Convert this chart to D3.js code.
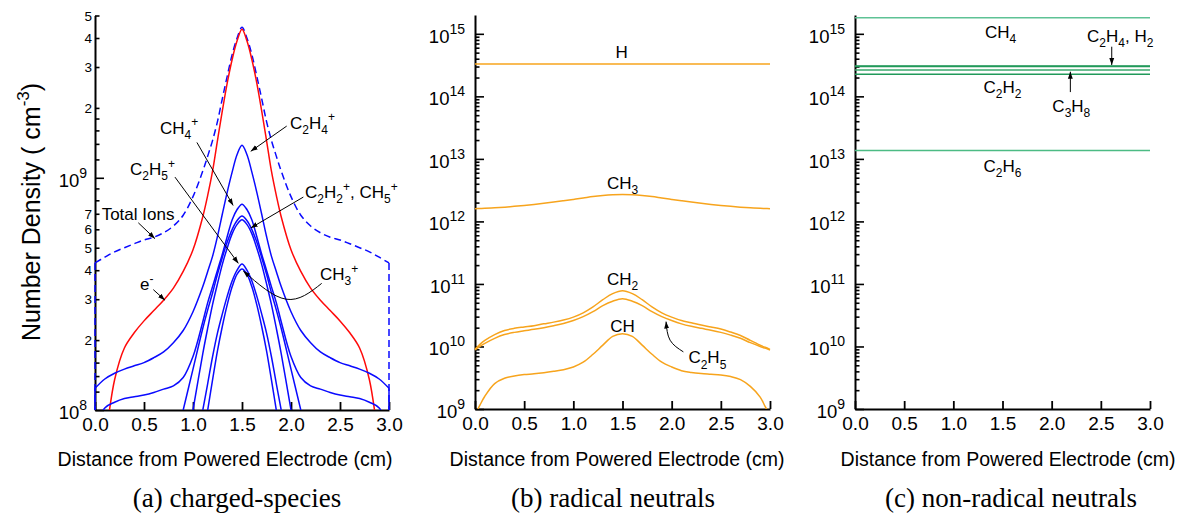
<!DOCTYPE html>
<html lang="en">
<head>
<meta charset="UTF-8">
<title>Number density profiles</title>
<script src="https://d3js.org/d3.v7.min.js"></script>
<style>
  body, html { margin: 0; padding: 0; background: #fff; overflow: hidden; }
  svg { display: block; font-family: "Liberation Sans", Arial, sans-serif; }
  .caption { font-family: "Liberation Serif", "Times New Roman", serif; }
</style>
</head>
<body>
<svg width="1193" height="514"></svg>
<script>
const _ = null;

// ---- (a) charged species, values in 1e8 cm^-3 ----
const xA = [0,0.1,0.2,0.3,0.4,0.5,0.6,0.7,0.8,0.9,1.0,1.1,1.15,1.2,1.25,1.3,1.35,1.4,1.45,1.5,
            1.55,1.6,1.65,1.7,1.75,1.8,1.85,1.9,2.0,2.1,2.2,2.3,2.4,2.5,2.6,2.7,2.8,2.9,3.0];
const totalIons = [4.3,4.55,4.8,5.0,5.2,5.4,5.55,5.8,6.2,6.9,8.3,10.7,12.4,14.5,17.5,22,27.5,34,40,44.5,
                   40,34,27.5,22,17.5,14.5,12.4,10.7,8.3,6.9,6.2,5.8,5.55,5.4,5.2,5.0,4.8,4.55,4.3];
const electrons = [0.4,0.72,1.35,1.85,2.15,2.42,2.68,2.97,3.35,3.95,4.9,6.8,8.4,10.7,14.5,19.5,25.7,32.4,38.9,43.6,
                   38.9,32.4,25.7,19.5,14.5,10.7,8.4,6.8,4.9,3.95,3.35,2.97,2.68,2.42,2.15,1.85,1.35,0.72,0.4];
const c2h4Ion = [1.24,1.36,1.44,1.5,1.55,1.6,1.68,1.78,1.95,2.2,2.65,3.4,3.95,4.6,5.6,7.0,8.7,10.6,12.6,13.8,
                 12.6,10.6,8.7,7.0,5.6,4.6,3.95,3.4,2.65,2.2,1.95,1.78,1.68,1.6,1.55,1.5,1.44,1.36,1.24];
const ch4Ion = [0.8,1.02,1.08,1.12,1.14,1.16,1.19,1.23,1.27,1.38,1.7,2.4,2.9,3.4,4.0,4.7,5.6,6.6,7.3,7.7,
                7.3,6.6,5.6,4.7,4.0,3.4,2.9,2.4,1.7,1.38,1.27,1.23,1.19,1.16,1.14,1.12,1.08,1.02,0.8];
const c2h2Ion = [_,_,_,_,_,_,_,_,_,1.0,1.5,2.25,2.7,3.2,3.85,4.55,5.3,6.0,6.55,6.85,
                 6.55,6.0,5.3,4.55,3.85,3.2,2.7,2.25,1.5,1.0,_,_,_,_,_,_,_,_,_];
const ch5Ion = [_,_,_,_,_,_,_,_,_,_,1.0,1.75,2.25,2.85,3.5,4.25,5.0,5.75,6.3,6.6,
                6.3,5.75,5.0,4.25,3.5,2.85,2.25,1.75,1.0,_,_,_,_,_,_,_,_,_,_];
const c2h5Ion = [_,_,_,_,_,_,_,_,_,_,_,1.0,1.3,1.7,2.15,2.6,3.1,3.6,4.0,4.25,
                 4.0,3.6,3.1,2.6,2.15,1.7,1.3,1.0,_,_,_,_,_,_,_,_,_,_,_];
const ch3Ion = [_,_,_,_,_,_,_,_,_,_,_,_,1.0,1.35,1.8,2.3,2.85,3.4,3.85,4.05,
                3.85,3.4,2.85,2.3,1.8,1.35,1.0,_,_,_,_,_,_,_,_,_,_,_,_];

// ---- (b) radical neutrals ----
const xB = [0,0.05,0.1,0.2,0.3,0.4,0.5,0.6,0.7,0.8,0.9,1.0,1.1,1.2,1.3,1.4,1.5,
            1.6,1.7,1.8,1.9,2.0,2.1,2.2,2.3,2.4,2.5,2.6,2.7,2.8,2.9,2.95,3.0];
const ch3Rad = [1.6,1.61,1.62,1.65,1.69,1.74,1.8,1.87,1.95,2.04,2.14,2.25,2.37,2.5,2.6,2.67,2.7,
                2.67,2.6,2.5,2.37,2.25,2.14,2.04,1.95,1.87,1.8,1.74,1.69,1.65,1.62,1.61,1.6];   // 1e12
const ch2Rad = [0.9,1.08,1.25,1.55,1.8,1.95,2.05,2.15,2.3,2.45,2.65,2.95,3.45,4.3,5.6,7.0,7.8,
                7.0,5.6,4.3,3.45,2.95,2.6,2.4,2.2,2.05,1.9,1.7,1.5,1.25,1.05,0.97,0.9];         // 1e10
const c2h5Rad = [0.88,1.0,1.12,1.35,1.55,1.68,1.78,1.88,2.0,2.15,2.33,2.6,3.0,3.6,4.5,5.3,5.8,
                 5.3,4.5,3.6,3.0,2.6,2.3,2.1,1.95,1.82,1.68,1.52,1.35,1.15,1.0,0.94,0.88];       // 1e10
const chRad = [0.8,1.15,1.6,2.55,3.1,3.38,3.55,3.65,3.8,4.0,4.25,4.7,5.6,7.5,10.5,14.5,16.0,
               14.5,10.5,7.5,5.6,4.7,4.1,3.85,3.7,3.6,3.5,3.3,2.95,2.3,1.55,1.1,0.8];           // 1e9
const hLevel = 3.3e14;

// ---- (c) non-radical neutrals (flat across the gap) ----
const nonRadSpecies = ["CH4", "C2H4", "H2", "C3H8", "C2H2", "C2H6"];
const nonRadLevels = [1.8e15, 3.07e14, 3.0e14, 2.65e14, 2.26e14, 1.36e13];
const nonRadColors = ["#5ec295", "#21995a", "#21995a", "#3aa86c", "#21995a", "#4cbb84"];

const xTicks = [0, 0.5, 1.0, 1.5, 2.0, 2.5, 3.0];

const svg = d3.select("svg");
const defs = svg.append("defs");
defs.append("marker").attr("id", "arrow")
  .attr("viewBox", "0 0 10 10").attr("refX", 10).attr("refY", 5)
  .attr("markerWidth", 7).attr("markerHeight", 7)
  .attr("markerUnits", "userSpaceOnUse").attr("orient", "auto")
  .append("path").attr("d", "M0,1.5L10,5L0,8.5Z").attr("fill", "#000");

// text with _x subscripts and ^x superscripts
function chem(g, x, y, str, size, anchor) {
  const t = g.append("text").attr("x", x).attr("y", y)
    .attr("font-size", size).attr("text-anchor", anchor || "start").attr("fill", "#000");
  const small = Math.round(size * 0.68);
  let runs = [], i = 0;
  while (i < str.length) {
    let c = str[i], mode = 0;
    if ((c === "_" || c === "^") && i + 1 < str.length) { mode = c === "_" ? 1 : -1; c = str[i + 1]; i += 2; }
    else i += 1;
    if (runs.length && runs[runs.length - 1].mode === mode && mode === 0) runs[runs.length - 1].s += c;
    else runs.push({ mode, s: c });
  }
  let shift = 0;
  runs.forEach(r => {
    const target = r.mode === 1 ? size * 0.3 : r.mode === -1 ? -size * 0.42 : 0;
    t.append("tspan").attr("dy", target - shift).attr("font-size", r.mode ? small : size).text(r.s);
    shift = target;
  });
  return t;
}

function panel(cfg) {
  const g = svg.append("g");
  const x = d3.scaleLinear().domain([0, 3]).range(cfg.xr);
  const y = d3.scaleLog().domain(cfg.yd).range(cfg.yr);
  const id = "clip" + cfg.name;
  defs.append("clipPath").attr("id", id).append("rect")
    .attr("x", cfg.xr[0] - 2).attr("y", cfg.yr[1])
    .attr("width", cfg.xr[1] - cfg.xr[0] + 4).attr("height", cfg.yr[0] - cfg.yr[1]);

  // axes (ticks point inward)
  const yMajor = g.append("g").attr("transform", `translate(${cfg.xr[0]},0)`)
    .call(d3.axisLeft(y).tickValues(cfg.major).tickSizeInner(-9).tickSizeOuter(0).tickFormat(""));
  g.append("g").attr("transform", `translate(${cfg.xr[0]},0)`)
    .call(d3.axisLeft(y).tickValues(cfg.minor).tickSizeInner(-4.5).tickSizeOuter(0).tickFormat(""))
    .select(".domain").remove();
  yMajor.select(".domain").attr("stroke-width", 2);
  g.selectAll(".tick line").attr("stroke-width", 1.6);

  const xAxis = g.append("g").attr("transform", `translate(0,${cfg.yr[0]})`)
    .call(d3.axisBottom(x).tickValues(xTicks).tickSizeInner(-8).tickSizeOuter(0)
      .tickPadding(8).tickFormat(d3.format(".1f")));
  xAxis.select(".domain").attr("stroke-width", 2);
  xAxis.selectAll(".tick line").attr("stroke-width", 1.8);
  xAxis.selectAll("text").attr("font-size", 19).attr("font-family", null).attr("fill", "#000");
  g.selectAll(".domain, .tick line").attr("stroke", "#000");

  // decade labels 10^n
  cfg.major.forEach(v => {
    const t = g.append("text").attr("x", cfg.xr[0] - cfg.labelGap).attr("y", y(v) + 9)
      .attr("text-anchor", "end").attr("font-size", 18.5);
    t.append("tspan").text("10");
    t.append("tspan").attr("font-size", 14).attr("dy", -9).text(Math.round(Math.log10(v)));
  });
  (cfg.minorLabels || []).forEach(v => {
    g.append("text").attr("x", cfg.xr[0] - 3).attr("y", y(v) + 5)
      .attr("text-anchor", "end").attr("font-size", 13.5)
      .text(Math.round(v / Math.pow(10, Math.floor(Math.log10(v) + 1e-9))));
  });

  g.append("text").attr("x", cfg.titleX).attr("y", 466).attr("text-anchor", "middle")
    .attr("font-size", 19.5).text("Distance from Powered Electrode (cm)");
  g.append("text").attr("class", "caption").attr("x", cfg.capX).attr("y", 507)
    .attr("text-anchor", "middle").attr("font-size", 27).text(cfg.caption);

  const plot = g.append("g").attr("clip-path", `url(#${id})`);
  const line = d3.line().defined(d => d[1] != null)
    .x(d => x(d[0])).y(d => y(d[1])).curve(d3.curveCatmullRom.alpha(0.5));
  cfg.series.forEach(s => {
    const pts = s.xs.map((xv, i) => [xv, s.vals[i] == null ? null : s.vals[i] * s.unit]);
    plot.append("path").attr("d", line(pts)).attr("fill", "none")
      .attr("stroke", s.color).attr("stroke-width", s.width || 1.5)
      .attr("stroke-dasharray", s.dash || null);
    if (s.wall) {
      [pts[0], pts[pts.length - 1]].forEach(p => {
        plot.append("line").attr("x1", x(p[0])).attr("x2", x(p[0]))
          .attr("y1", y(p[1])).attr("y2", y(cfg.yd[0]))
          .attr("stroke", s.color).attr("stroke-width", s.width || 1.5)
          .attr("stroke-dasharray", s.dash || null);
      });
    }
  });

  const arrowLine = d3.line().x(d => x(d[0])).y(d => y(d[1])).curve(d3.curveNatural);
  (cfg.arrows || []).forEach(a => {
    g.append("path").attr("d", arrowLine(a)).attr("fill", "none")
      .attr("stroke", "#000").attr("stroke-width", 1).attr("marker-end", "url(#arrow)");
  });
  (cfg.labels || []).forEach(l => chem(g, x(l[0]), y(l[1]), l[2], l[3] || 17, l[4]));
  return { g, x, y };
}

const blue = "#0a0aff";
panel({
  name: "a", xr: [95, 389], yd: [1e8, 5e9], yr: [410, 15.5], labelGap: 8,
  major: [1e8, 1e9],
  minor: [1.2e8,1.4e8,1.6e8,1.8e8,2e8,3e8,4e8,5e8,6e8,7e8,8e8,9e8,1.2e9,1.4e9,1.6e9,1.8e9,2e9,3e9,4e9,5e9],
  minorLabels: [2e8,3e8,4e8,5e8,6e8,7e8,2e9,3e9,4e9,5e9],
  titleX: 225, capX: 237, caption: "(a) charged-species",
  series: [
    { xs: xA, vals: totalIons, unit: 1e8, color: blue, dash: "7,4", wall: true },
    { xs: xA, vals: electrons, unit: 1e8, color: "#ff0a0a" },
    { xs: xA, vals: c2h4Ion, unit: 1e8, color: blue, wall: true },
    { xs: xA, vals: ch4Ion, unit: 1e8, color: blue },
    { xs: xA, vals: c2h2Ion, unit: 1e8, color: blue },
    { xs: xA, vals: ch5Ion, unit: 1e8, color: blue },
    { xs: xA, vals: c2h5Ion, unit: 1e8, color: blue },
    { xs: xA, vals: ch3Ion, unit: 1e8, color: blue }
  ],
  arrows: [
    [[1.04, 1.42e9], [1.41, 7.6e8]],
    [[1.956, 1.67e9], [1.589, 1.30e9]],
    [[0.816, 1.007e9], [1.463, 4.28e8]],
    [[2.126, 8.26e8], [1.589, 6.08e8]],
    [[0.442, 6.4e8], [0.612, 5.47e8]],
    [[0.595, 3.3e8], [0.714, 2.97e8]],
    [[2.313, 3.51e8], [1.95, 3.0e8], [1.513, 3.97e8]]
  ],
  labels: [
    [0.663, 1.55e9, "CH_4^+"],
    [1.99, 1.63e9, "C_2H_4^+"],
    [0.357, 1.03e9, "C_2H_5^+"],
    [2.143, 8.17e8, "C_2H_2^+, CH_5^+"],
    [0.068, 6.56e8, "Total Ions"],
    [0.459, 3.28e8, "e^-"],
    [2.296, 3.62e8, "CH_3^+"]
  ]
});

const decades = [1e9, 1e10, 1e11, 1e12, 1e13, 1e14, 1e15];
const minorDec = [];
decades.slice(0, 6).forEach(d => [2,3,4,5,6,7,8,9].forEach(m => minorDec.push(d * m)));
const orange = "#f7a41d";

panel({
  name: "b", xr: [475, 770], yd: [1e9, 2e15], yr: [409, 15], labelGap: 10,
  major: decades, minor: minorDec,
  titleX: 617, capX: 613, caption: "(b) radical neutrals",
  series: [
    { xs: [0, 3], vals: [hLevel, hLevel], unit: 1, color: orange },
    { xs: xB, vals: ch3Rad, unit: 1e12, color: orange },
    { xs: xB, vals: ch2Rad, unit: 1e10, color: orange },
    { xs: xB, vals: c2h5Rad, unit: 1e10, color: orange },
    { xs: xB, vals: chRad, unit: 1e9, color: orange }
  ],
  arrows: [
    [[2.119, 8.2e9], [1.984, 1.26e10], [1.943, 2.5e10]]
  ],
  labels: [
    [1.49, 4.14e14, "H", 17, "middle"],
    [1.5, 3.33e12, "CH_3", 17, "middle"],
    [1.5, 9.5e10, "CH_2", 17, "middle"],
    [1.5, 1.71e10, "CH", 17, "middle"],
    [2.17, 5.36e9, "C_2H_5", 17, "start"]
  ]
});

panel({
  name: "c", xr: [855, 1150], yd: [1e9, 2e15], yr: [409, 15], labelGap: 10,
  major: decades, minor: minorDec,
  titleX: 1008, capX: 1011, caption: "(c) non-radical neutrals",
  series: nonRadLevels.map((v, i) => ({ xs: [0, 3], vals: [v, v], unit: 1, color: nonRadColors[i] })),
  arrows: [
    [[2.611, 6.22e14], [2.611, 3.17e14]],
    [[2.19, 1.17e14], [2.19, 2.48e14]]
  ],
  labels: [
    [1.48, 8.47e14, "CH_4", 17, "middle"],
    [2.36, 7.48e14, "C_2H_4, H_2", 17, "start"],
    [1.5, 1.12e14, "C_2H_2", 17, "middle"],
    [2.2, 5.69e13, "C_3H_8", 17, "middle"],
    [1.5, 6.24e12, "C_2H_6", 17, "middle"]
  ]
});

// y-axis title of panel (a)
const yt = svg.append("text").attr("transform", "translate(40,212) rotate(-90)")
  .attr("text-anchor", "middle").attr("font-size", 25);
yt.append("tspan").text("Number Density ( cm");
yt.append("tspan").attr("font-size", 17).attr("dy", -11).text("-3");
yt.append("tspan").attr("dy", 11).text(")");
</script>
</body>
</html>
